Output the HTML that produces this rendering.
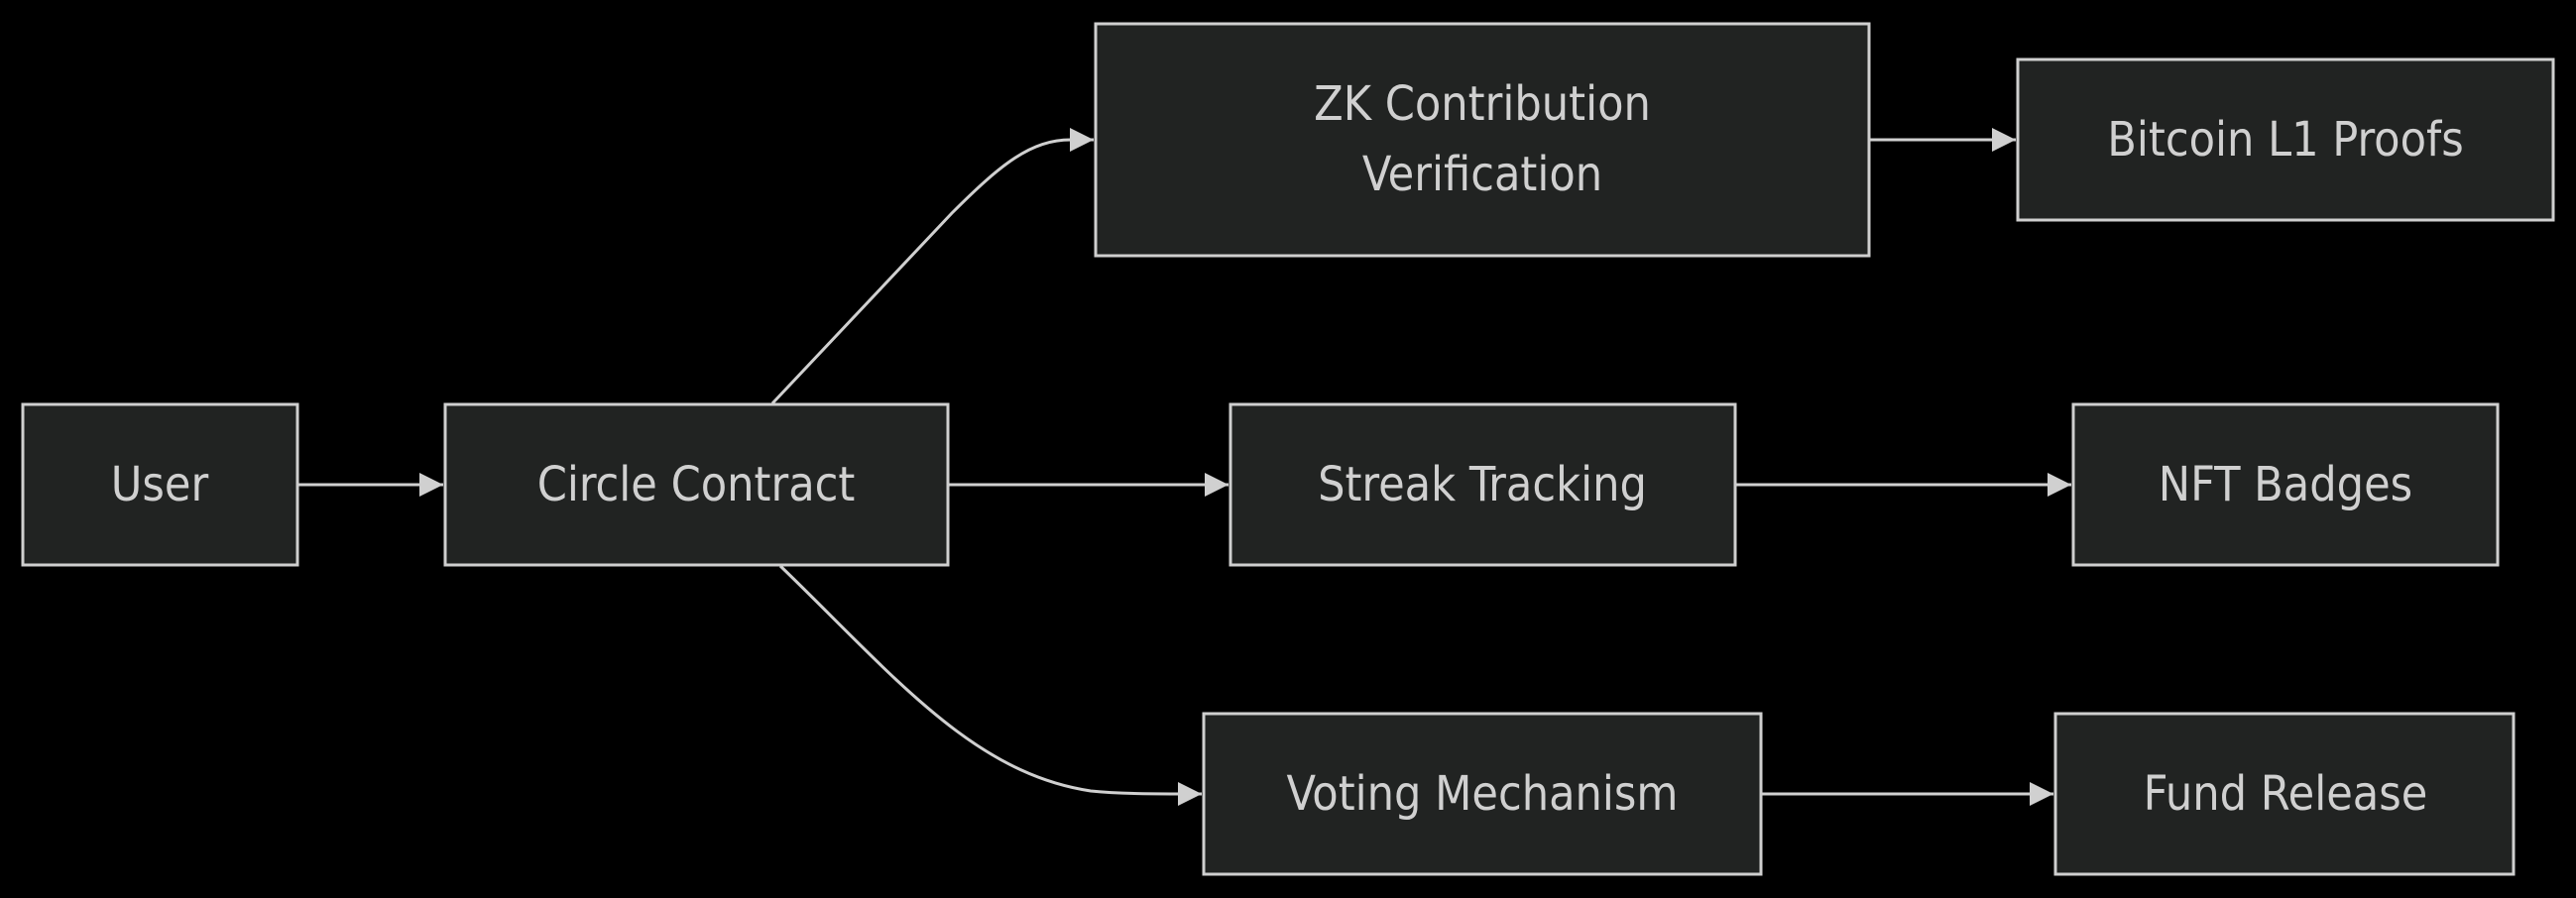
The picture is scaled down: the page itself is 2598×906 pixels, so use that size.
<!DOCTYPE html>
<html><head><style>
html,body{margin:0;padding:0;background:#000;}
svg{display:block}
text{font-family:"DejaVu Sans Condensed","Liberation Sans",sans-serif;font-size:48px;fill:#d0d0d0;text-anchor:middle;dominant-baseline:central}
rect{fill:#212322;stroke:#cfcfcf;stroke-width:3}
.e{fill:none;stroke:#d0d0d0;stroke-width:3}
</style></head><body>
<svg width="2598" height="906" viewBox="0 0 2598 906">
<defs><marker id="a" markerWidth="24" markerHeight="24" refX="10" refY="5" orient="auto" markerUnits="userSpaceOnUse" viewBox="0 0 10 10"><path d="M0,0L10,5L0,10z" fill="#d0d0d0"/></marker></defs>
<g>
<path class="e" d="M300,489 L447,489" marker-end="url(#a)"/>
<path class="e" d="M779,407 L960,215 C1010,165 1040,141 1080,141 L1103,141" marker-end="url(#a)"/>
<path class="e" d="M956,489 L1239,489" marker-end="url(#a)"/>
<path class="e" d="M787,571 C900,680 980,780 1100,798 C1130,801 1160,801 1212,801" marker-end="url(#a)"/>
<path class="e" d="M1885,141 L2033,141" marker-end="url(#a)"/>
<path class="e" d="M1750,489 L2089,489" marker-end="url(#a)"/>
<path class="e" d="M1776,801 L2071,801" marker-end="url(#a)"/>
</g>
<rect x="23" y="408" width="277" height="162"/><text x="161" y="489">User</text>
<rect x="449" y="408" width="507" height="162"/><text x="702" y="489">Circle Contract</text>
<rect x="1105" y="24" width="780" height="234"/><text x="1495" y="105">ZK Contribution</text><text x="1495" y="176">Verification</text>
<rect x="2035" y="60" width="540" height="162"/><text x="2305" y="141">Bitcoin L1 Proofs</text>
<rect x="1241" y="408" width="509" height="162"/><text x="1495" y="489">Streak Tracking</text>
<rect x="2091" y="408" width="428" height="162"/><text x="2305" y="489">NFT Badges</text>
<rect x="1214" y="720" width="562" height="162"/><text x="1495" y="801">Voting Mechanism</text>
<rect x="2073" y="720" width="462" height="162"/><text x="2305" y="801">Fund Release</text>
</svg>
</body></html>
